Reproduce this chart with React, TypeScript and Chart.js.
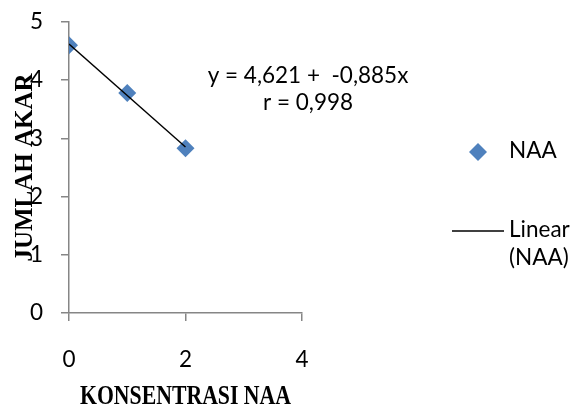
import React, { useEffect, useRef } from 'react';
import { Chart, registerables } from 'chart.js';

Chart.register(...registerables);

// ---- data ----
const xValues = [0, 1, 2];
const yValues = [4.6, 3.78, 2.83];
const seriesLabel = 'NAA';
const trendLabelLines = ['Linear', '(NAA)'];
const trendIntercept = 4.621;
const trendSlope = -0.885;
const trendRange = [0, 2];
const equationLines = ['y = 4,621 +  -0,885x', 'r = 0,998'];
const xTitle = 'KONSENTRASI NAA';
const yTitle = 'JUMLAH AKAR';
const xMin = 0;
const xMax = 4;
const xStep = 2;
const yMin = 0;
const yMax = 5;
const yStep = 1;

const BLUE = '#4F81BD';
const AXIS = '#868686';
const TEXT_FONT = 'Lato';
const TEXT_SIZE = 22.5;

function diamond(ctx: CanvasRenderingContext2D, x: number, y: number, r: number) {
  ctx.beginPath();
  ctx.moveTo(x, y - r);
  ctx.lineTo(x + r, y);
  ctx.lineTo(x, y + r);
  ctx.lineTo(x - r, y);
  ctx.closePath();
  ctx.fill();
}

const overlayPlugin = {
  id: 'overlay',
  afterDraw(chart: any) {
    const ctx: CanvasRenderingContext2D = chart.ctx;
    const area = chart.chartArea;
    ctx.save();
    ctx.font = `${TEXT_SIZE}px ${TEXT_FONT}`;
    ctx.fillStyle = '#000';
    ctx.textBaseline = 'middle';
    // equation label
    ctx.textAlign = 'center';
    const eqX = area.right + 6;
    equationLines.forEach((t, i) => ctx.fillText(t, eqX, area.top + 54 + i * 27));
    // legend
    ctx.textAlign = 'left';
    ctx.fillStyle = BLUE;
    diamond(ctx, 478, 152, 9);
    ctx.fillStyle = '#000';
    ctx.fillText(seriesLabel, 509, 151);
    ctx.strokeStyle = '#000';
    ctx.lineWidth = 1.3;
    ctx.beginPath();
    ctx.moveTo(452, 231);
    ctx.lineTo(504, 231);
    ctx.stroke();
    trendLabelLines.forEach((t, i) => ctx.fillText(t, 509, 230 + i * 28));
    // x axis title (condensed bold serif)
    ctx.font = 'bold 28px "Liberation Serif"';
    ctx.textAlign = 'center';
    ctx.textBaseline = 'alphabetic';
    const w = ctx.measureText(xTitle).width;
    const sx = 211 / w;
    ctx.translate((area.left + area.right) / 2, 404);
    ctx.scale(sx, 1);
    ctx.fillText(xTitle, 0, 0);
    ctx.restore();
  },
};

export default function App() {
  const ref = useRef<HTMLCanvasElement | null>(null);
  useEffect(() => {
    if (!ref.current) return;
    const points = xValues.map((x, i) => ({ x, y: yValues[i] }));
    const trend = trendRange.map((x) => ({ x, y: trendIntercept + trendSlope * x }));
    const tickFont = { family: TEXT_FONT, size: TEXT_SIZE };
    const chart = new Chart(ref.current, {
      type: 'scatter',
      data: {
        datasets: [
          {
            type: 'line',
            label: 'Linear (NAA)',
            data: trend,
            borderColor: '#000',
            borderWidth: 1.4,
            pointRadius: 0,
            fill: false,
            order: 0,
          } as any,
          {
            type: 'scatter',
            label: seriesLabel,
            data: points,
            backgroundColor: BLUE,
            borderColor: BLUE,
            borderWidth: 0,
            pointStyle: 'rectRot',
            pointRadius: 9,
            order: 1,
          },
        ],
      },
      options: {
        responsive: false,
        animation: false,
        layout: { autoPadding: false, padding: { left: 0, top: 22, right: 276, bottom: 0 } },
        plugins: { legend: { display: false }, tooltip: { enabled: false } },
        scales: {
          x: {
            type: 'linear',
            min: xMin,
            max: xMax,
            ticks: { stepSize: xStep, color: '#000', font: tickFont, padding: 25 },
            grid: { drawOnChartArea: false, drawTicks: true, tickLength: 8, color: AXIS, lineWidth: 1.5 },
            border: { display: true, color: AXIS, width: 1.5 },
            title: { display: false, text: xTitle },
            afterFit: (s: any) => {
              s.height = 92;
              s.paddingLeft = 0;
              s.paddingRight = 0;
            },
          },
          y: {
            type: 'linear',
            min: yMin,
            max: yMax,
            ticks: { stepSize: yStep, color: '#000', font: tickFont, padding: 18 },
            grid: { drawOnChartArea: false, drawTicks: true, tickLength: 8, color: AXIS, lineWidth: 1.5 },
            border: { display: true, color: AXIS, width: 1.5 },
            title: {
              display: true,
              text: yTitle,
              color: '#000',
              font: { family: 'Liberation Serif', size: 25, weight: 'bold' },
              padding: { top: 11, bottom: 0 },
            },
            afterFit: (s: any) => {
              s.width = 69;
              s.paddingTop = 0;
              s.paddingBottom = 0;
            },
          },
        },
      },
      plugins: [overlayPlugin],
    });
    return () => chart.destroy();
  }, []);
  return (
    <div style={{ position: 'absolute', left: 0, top: 0, width: 578, height: 405, background: '#fff' }}>
      <canvas ref={ref} width={578} height={405} />
    </div>
  );
}
